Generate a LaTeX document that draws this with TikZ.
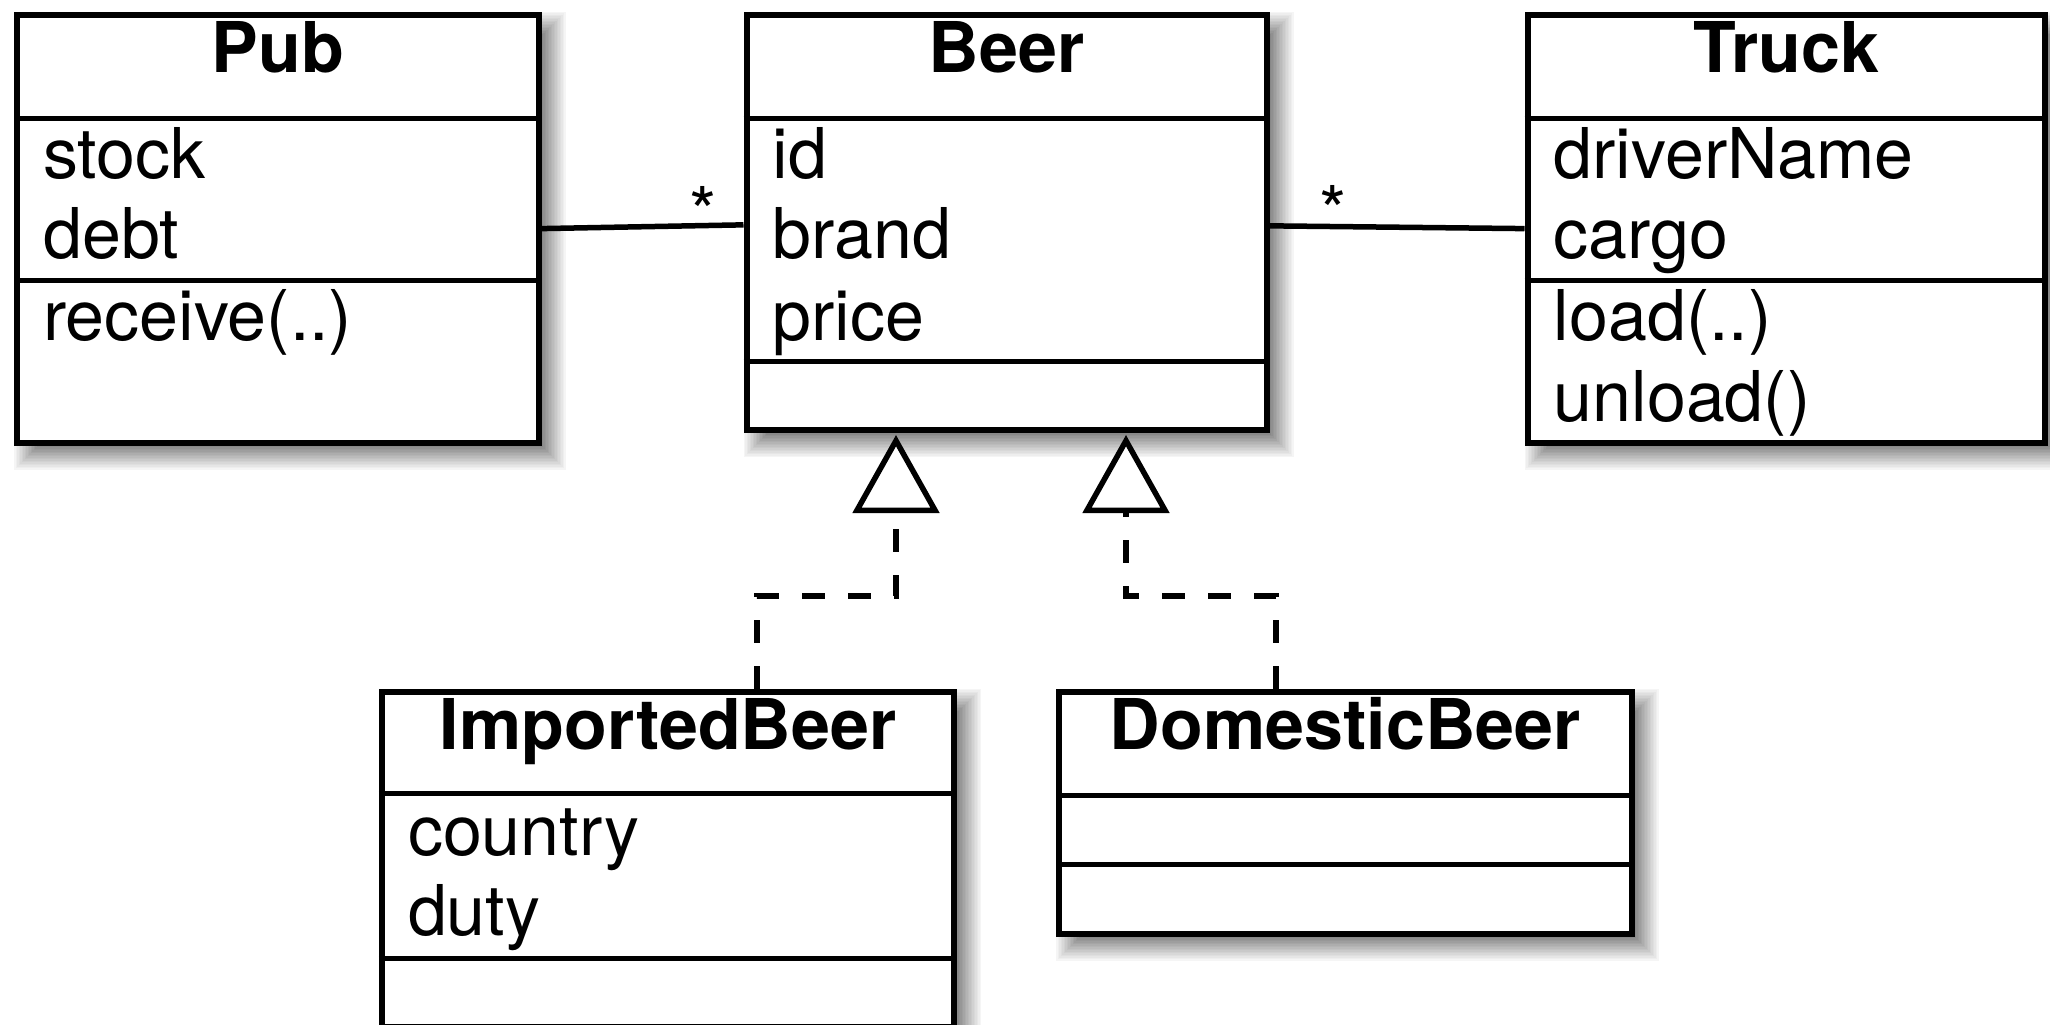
\documentclass[tikz,border=0pt]{standalone}
\usepackage{fontspec}
\setmainfont{TeX Gyre Heros}
\usetikzlibrary{calc,arrows.meta}

\tikzset{
  classbox/.style={draw=black, line width=6pt, fill=white, rectangle, inner sep=0pt},
  divider/.style={draw=black, line width=5pt},
  classname/.style={font=\fontsize{70}{82}\selectfont\bfseries, inner sep=0pt, anchor=base},
  member/.style={font=\fontsize{70}{82}\selectfont, inner sep=0pt, anchor=base west},
  multiplicity/.style={font=\fontsize{70}{82}\selectfont, inner sep=0pt, anchor=base},
  assoc/.style={draw=black, line width=5.5pt},
  realize/.style={draw=black, line width=5.5pt, dash pattern=on 23pt off 23pt,
    -{Triangle[length=78pt, width=86pt, fill=white, line width=5.5pt]}},
}

% soft drop shadow: nested rectangles, lightest and largest first
\newcommand\boxshadow[4]{%
  \foreach \e in {15,13.5,...,-12}{%
    \pgfmathsetmacro\shadelvl{4+(15-\e)*51/27}%
    \fill[black!\shadelvl] (#1+12-\e, #2+12-\e) rectangle (#3+12+\e, #4+12+\e);
  }}

% class box: name, left, top, right, bottom, header rule, member rule
\newcommand\umlclass[7]{%
  \boxshadow{#2}{#3}{#4}{#5}
  \pgfmathsetmacro\boxw{#4-#2}%
  \pgfmathsetmacro\boxh{#5-#3}%
  \node[classbox, minimum width=\boxw pt, minimum height=\boxh pt] (#1) at ({(#2+#4)/2},{(#3+#5)/2}) {};
  \draw[divider] (#1.west |- 0,#6) -- (#1.east |- 0,#6);
  \draw[divider] (#1.west |- 0,#7) -- (#1.east |- 0,#7);
}

\begin{document}
\begin{tikzpicture}[x=1pt, y=-1pt]
  \useasboundingbox (0,0) rectangle (2050,1025);
  \clip (0,0) rectangle (2050,1025);
  \fill[white] (0,0) rectangle (2050,1025);

  % classes
  \umlclass{pub}{17}{14.7}{538.6}{442.5}{118.5}{280}
  \umlclass{beer}{746.5}{14.7}{1266.9}{430}{118.5}{361}
  \umlclass{truck}{1527.5}{14.7}{2045}{442.5}{118.5}{280}
  \umlclass{imp}{381.8}{691.6}{954.4}{1027}{793.6}{958}
  \umlclass{dom}{1059}{691.6}{1631.6}{933.5}{795}{864}

  % class names
  \node[classname] (pub-name)   at ($(pub.north)+(0,61)$)   {Pub};
  \node[classname] (beer-name)  at ($(beer.north)+(0,61)$)  {Beer};
  \node[classname] (truck-name) at ($(truck.north)+(0,61)$) {Truck};
  \node[classname] (imp-name)   at ($(imp.north)+(0,61)$)   {ImportedBeer};
  \node[classname] (dom-name)   at ($(dom.north)+(0,61)$)   {DomesticBeer};

  % members
  \node[member] (pub-stock) at ($(pub.north west)+(29,167)$) {stock};
  \node[member] (pub-debt)  at ($(pub.north west)+(29,247)$) {debt};
  \node[member] (pub-recv)  at ($(pub.north west)+(29,328.5)$) {receive(..)};

  \node[member] (beer-id)    at ($(beer.north west)+(29,167)$) {id};
  \node[member] (beer-brand) at ($(beer.north west)+(29,247)$) {brand};
  \node[member] (beer-price) at ($(beer.north west)+(29,328.5)$) {price};

  \node[member] (truck-driver) at ($(truck.north west)+(29,167)$) {driverName};
  \node[member] (truck-cargo)  at ($(truck.north west)+(29,247)$) {cargo};
  \node[member] (truck-load)   at ($(truck.north west)+(29,328.5)$) {load(..)};
  \node[member] (truck-unload) at ($(truck.north west)+(29,409.5)$) {unload()};

  \node[member] (imp-country) at ($(imp.north west)+(29,167)$) {country};
  \node[member] (imp-duty)    at ($(imp.north west)+(29,247)$) {duty};

  % associations
  \draw[assoc] (pub.east) -- ([yshift=-2.5pt]beer.west);
  \draw[assoc] ([yshift=-3.5pt]beer.east) -- (truck.west);
  \node[multiplicity] (m-left)  at ($(beer.west)+(-40,15)$) {*};
  \node[multiplicity] (m-right) at ($(beer.east)+(63,14)$)  {*};

  % realizations
  \draw[realize] ([xshift=88.9pt]imp.north) -- ++(0,-92.6) -| ([xshift=-110.7pt, yshift=-2pt]beer.south);
  \draw[realize] ([xshift=-69.3pt]dom.north) -- ++(0,-92.6) -| ([xshift=119.3pt, yshift=-2pt]beer.south);
\end{tikzpicture}
\end{document}
